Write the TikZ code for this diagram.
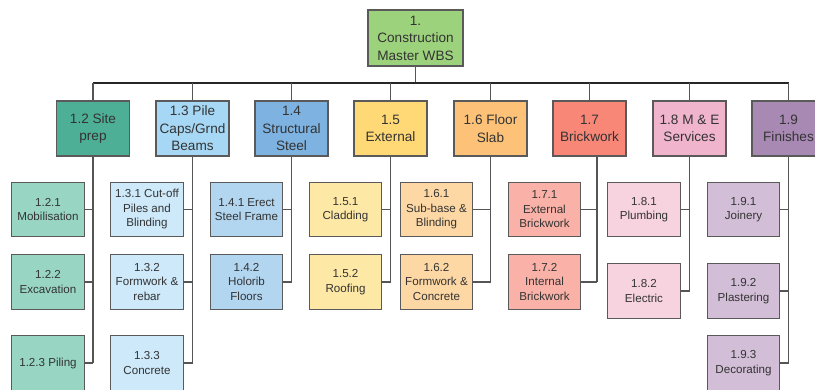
\documentclass[tikz,border=0pt]{standalone}
\usepackage{fontspec}
\setmainfont{Liberation Sans}
\definecolor{txt}{HTML}{333333}
\definecolor{bdr}{HTML}{5A5A5A}
\definecolor{lnk}{HTML}{555555}
\definecolor{cRoot}{HTML}{9DD27C}
\definecolor{cA}{HTML}{4DB096}\definecolor{cAl}{HTML}{98D6C3}
\definecolor{cB}{HTML}{A6D8F5}\definecolor{cBl}{HTML}{CDE9FA}
\definecolor{cC}{HTML}{7DB2E1}\definecolor{cCl}{HTML}{B2D5F0}
\definecolor{cD}{HTML}{FFD975}\definecolor{cDl}{HTML}{FEE8A5}
\definecolor{cE}{HTML}{FDC278}\definecolor{cEl}{HTML}{FDD8A5}
\definecolor{cF}{HTML}{F88778}\definecolor{cFl}{HTML}{FAB2A8}
\definecolor{cG}{HTML}{F0B4CD}\definecolor{cGl}{HTML}{F7D3DF}
\definecolor{cH}{HTML}{A889B4}\definecolor{cHl}{HTML}{D2BED7}
\tikzset{
  box/.style={draw=bdr, line width=1.2pt, text=txt, align=center, inner sep=0pt},
  topbox/.style={box, minimum width=95pt, minimum height=56pt, font=\fontsize{13.6}{17.5}\selectfont},
  lvtwo/.style={box, minimum width=73pt, minimum height=55pt, font=\fontsize{13.6}{17.5}\selectfont},
  lvthree/.style={box, minimum width=72.5pt, minimum height=54.5pt, font=\fontsize{11.6}{14.5}\selectfont},
  link/.style={draw=lnk, line width=1.2pt},
  buslink/.style={draw=black!85, line width=1.2pt}
}
\begin{document}
\begin{tikzpicture}[x=1pt,y=-1pt]
\useasboundingbox (0,0) rectangle (815,389);
\clip (0,0) rectangle (815,389);
\fill[white] (0,0) rectangle (815,389);

\node[topbox, fill=cRoot] (root) at (415.5,38) {1.\\Construction\\Master WBS};

\node[lvtwo, fill=cA] (n12) at (93,128.5) {1.2 Site\\prep};
\node[lvtwo, fill=cB] (n13) at (192.5,128.5) {1.3 Pile\\Caps/Grnd\\Beams};
\node[lvtwo, fill=cC] (n14) at (291.5,128.5) {1.4\\Structural\\Steel};
\node[lvtwo, fill=cD] (n15) at (390.5,128.5) {1.5\\External};
\node[lvtwo, fill=cE] (n16) at (490.5,128.5) {1.6 Floor\\Slab};
\node[lvtwo, fill=cF] (n17) at (589.5,128.5) {1.7\\Brickwork};
\node[lvtwo, fill=cG] (n18) at (689.5,128.5) {1.8 M \& E\\Services};
\node[lvtwo, fill=cH] (n19) at (788.5,128.5) {1.9\\Finishes};

\node[lvthree, fill=cAl] (n121) at (48,209.5) {1.2.1\\Mobilisation};
\node[lvthree, fill=cAl] (n122) at (48,282) {1.2.2\\Excavation};
\node[lvthree, fill=cAl] (n123) at (48,363) {1.2.3 Piling};

\node[lvthree, fill=cBl] (n131) at (147,209.5) {1.3.1 Cut-off\\Piles and\\Blinding};
\node[lvthree, fill=cBl] (n132) at (147,282) {1.3.2\\Formwork \&\\rebar};
\node[lvthree, fill=cBl] (n133) at (147,363) {1.3.3\\Concrete};

\node[lvthree, fill=cCl] (n141) at (246.5,209.5) {1.4.1 Erect\\Steel Frame};
\node[lvthree, fill=cCl] (n142) at (246.5,282) {1.4.2\\Holorib\\Floors};

\node[lvthree, fill=cDl] (n151) at (345.5,209.5) {1.5.1\\Cladding};
\node[lvthree, fill=cDl] (n152) at (345.5,282) {1.5.2\\Roofing};

\node[lvthree, fill=cEl] (n161) at (436.5,209.5) {1.6.1\\Sub-base \&\\Blinding};
\node[lvthree, fill=cEl] (n162) at (436.5,282) {1.6.2\\Formwork \&\\Concrete};

\node[lvthree, fill=cFl] (n171) at (544.5,209.5) {1.7.1\\External\\Brickwork};
\node[lvthree, fill=cFl] (n172) at (544.5,282) {1.7.2\\Internal\\Brickwork};

\node[lvthree, fill=cGl] (n181) at (644,209.5) {1.8.1\\Plumbing};
\node[lvthree, fill=cGl] (n182) at (644,291) {1.8.2\\Electric};

\node[lvthree, fill=cHl] (n191) at (743.5,209.5) {1.9.1\\Joinery};
\node[lvthree, fill=cHl] (n192) at (743.5,291) {1.9.2\\Plastering};
\node[lvthree, fill=cHl] (n193) at (743.5,363) {1.9.3\\Decorating};

% bus
\coordinate (bus) at (415.5,83);
\draw[link] (root.south) -- (bus);
\draw[buslink] (n12.north |- bus) -- (n19.north |- bus);
\foreach \n in {n12,n13,n14,n15,n16,n17,n18,n19}
  \draw[link] (\n.north) -- (\n.north |- bus);

% children
\coordinate (v17) at ([xshift=7.5pt]n17.south);
\draw[link] (n12.south) -- (n12.south |- n123.east);
\foreach \c in {n121,n122,n123} \draw[link] (\c.east) -- (\c.east -| n12.south);
\draw[link] (n13.south) -- (n13.south |- n133.east);
\foreach \c in {n131,n132,n133} \draw[link] (\c.east) -- (\c.east -| n13.south);
\draw[link] (n14.south) -- (n14.south |- n142.east);
\foreach \c in {n141,n142} \draw[link] (\c.east) -- (\c.east -| n14.south);
\draw[link] (n15.south) -- (n15.south |- n152.east);
\foreach \c in {n151,n152} \draw[link] (\c.east) -- (\c.east -| n15.south);
\draw[link] (n16.south) -- (n16.south |- n162.east);
\foreach \c in {n161,n162} \draw[link] (\c.east) -- (\c.east -| n16.south);
\draw[link] (v17) -- (v17 |- n172.east);
\foreach \c in {n171,n172} \draw[link] (\c.east) -- (\c.east -| v17);
\draw[link] (n18.south) -- (n18.south |- n182.east);
\foreach \c in {n181,n182} \draw[link] (\c.east) -- (\c.east -| n18.south);
\draw[link] (n19.south) -- (n19.south |- n193.east);
\foreach \c in {n191,n192,n193} \draw[link] (\c.east) -- (\c.east -| n19.south);
\end{tikzpicture}
\end{document}
